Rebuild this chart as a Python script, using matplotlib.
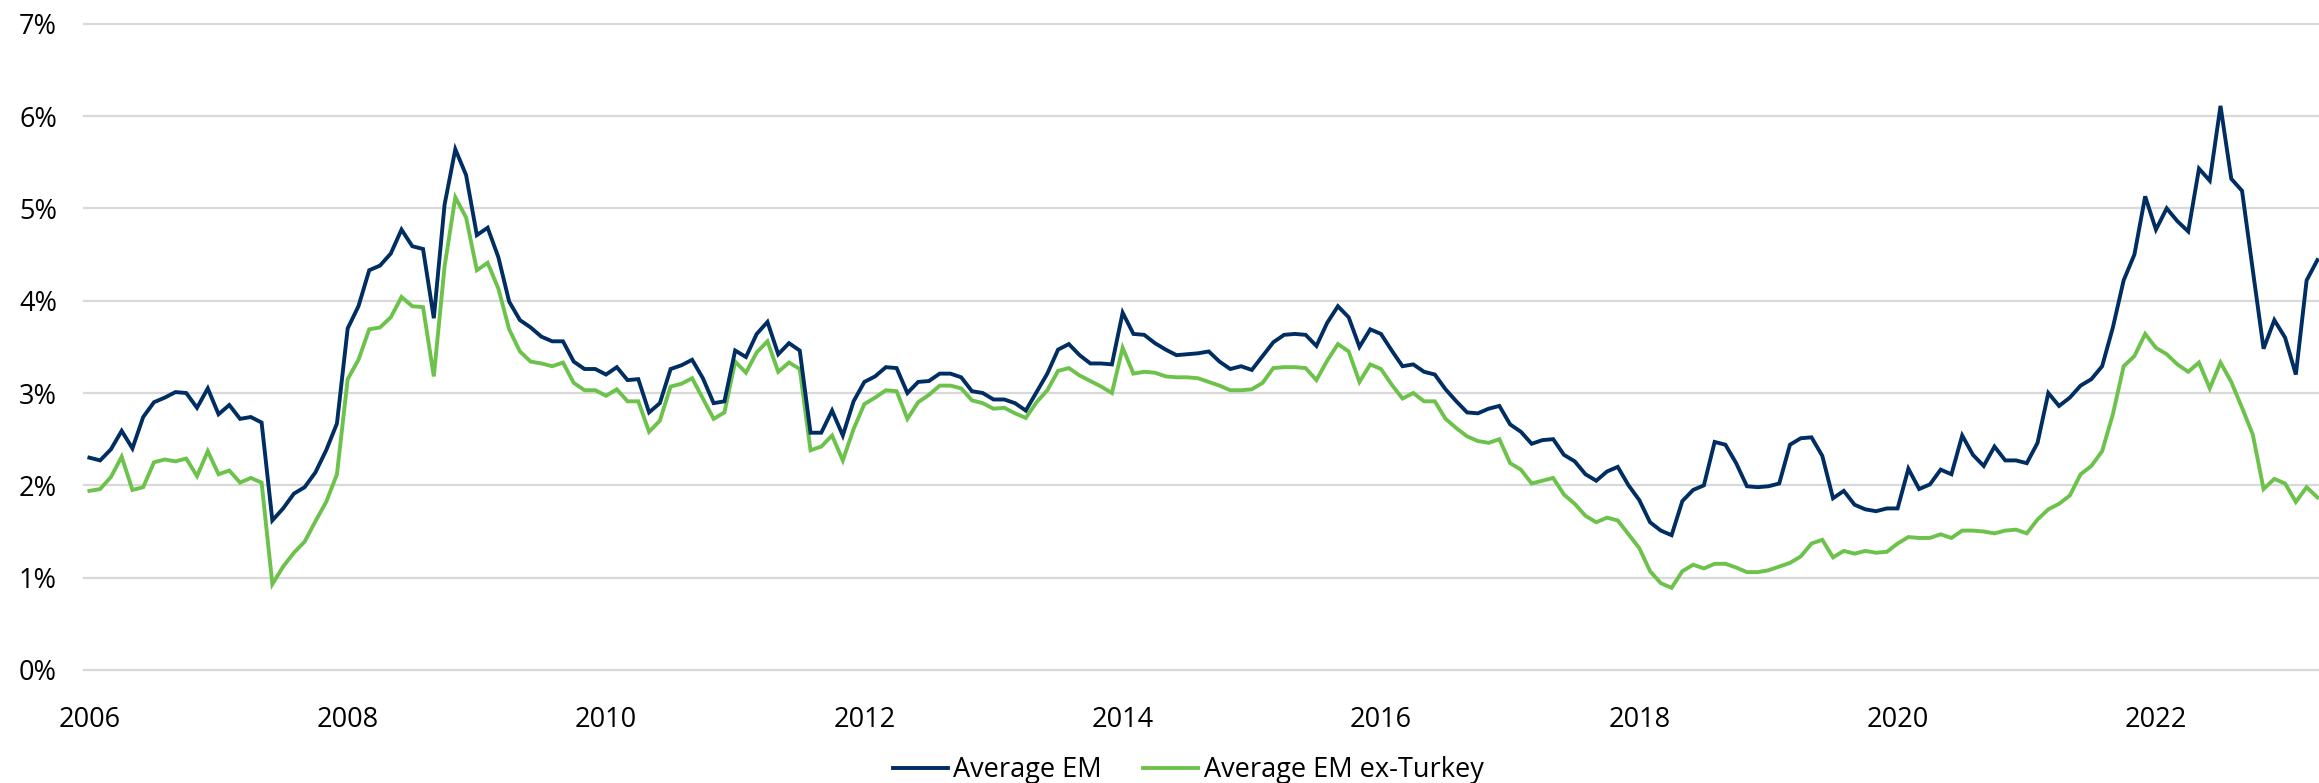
"""Average EM series vs. average EM ex-Turkey, monthly, 2006 to 2023."""
import matplotlib

matplotlib.use("Agg")
import matplotlib.pyplot as plt
import numpy as np
import pandas as pd


MONTHS = pd.period_range("2006-01", "2023-04", freq="M")
YEAR_LABELS = ["2006", "2008", "2010", "2012", "2014", "2016", "2018", "2020", "2022"]

# Percent, one row per calendar year (last row: Jan-Apr 2023).
AVERAGE_EM = [
    2.30, 2.27, 2.39, 2.59, 2.40, 2.74, 2.90, 2.95, 3.01, 3.00, 2.84, 3.05,
    2.77, 2.87, 2.72, 2.74, 2.68, 1.62, 1.75, 1.91, 1.98, 2.14, 2.38, 2.67,
    3.70, 3.94, 4.33, 4.38, 4.51, 4.77, 4.59, 4.56, 3.81, 5.04, 5.64, 5.36,
    4.71, 4.79, 4.47, 3.99, 3.79, 3.71, 3.61, 3.56, 3.56, 3.34, 3.26, 3.26,
    3.20, 3.28, 3.14, 3.15, 2.79, 2.89, 3.26, 3.30, 3.36, 3.16, 2.89, 2.91,
    3.46, 3.39, 3.64, 3.77, 3.42, 3.54, 3.46, 2.57, 2.57, 2.81, 2.54, 2.91,
    3.12, 3.18, 3.28, 3.27, 3.00, 3.12, 3.13, 3.21, 3.21, 3.17, 3.02, 3.00,
    2.93, 2.93, 2.89, 2.81, 3.01, 3.21, 3.47, 3.53, 3.41, 3.32, 3.32, 3.31,
    3.87, 3.64, 3.63, 3.54, 3.47, 3.41, 3.42, 3.43, 3.45, 3.34, 3.26, 3.29,
    3.25, 3.40, 3.55, 3.63, 3.64, 3.63, 3.51, 3.76, 3.94, 3.82, 3.50, 3.69,
    3.64, 3.46, 3.29, 3.31, 3.23, 3.20, 3.04, 2.91, 2.79, 2.78, 2.83, 2.86,
    2.66, 2.58, 2.45, 2.49, 2.50, 2.33, 2.26, 2.12, 2.05, 2.15, 2.20, 2.00,
    1.84, 1.60, 1.51, 1.46, 1.83, 1.95, 2.00, 2.47, 2.44, 2.24, 1.99, 1.98,
    1.99, 2.02, 2.44, 2.51, 2.52, 2.32, 1.86, 1.94, 1.79, 1.74, 1.72, 1.75,
    1.75, 2.18, 1.96, 2.01, 2.17, 2.12, 2.54, 2.33, 2.21, 2.42, 2.27, 2.27,
    2.24, 2.46, 3.00, 2.86, 2.95, 3.08, 3.15, 3.29, 3.71, 4.22, 4.50, 5.13,
    4.77, 5.00, 4.86, 4.75, 5.43, 5.30, 6.11, 5.32, 5.19, 4.33, 3.48, 3.79,
    3.60, 3.20, 4.22, 4.44,
]
AVERAGE_EM_EX_TURKEY = [
    1.94, 1.96, 2.09, 2.31, 1.95, 1.98, 2.25, 2.28, 2.26, 2.29, 2.10, 2.37,
    2.12, 2.16, 2.03, 2.08, 2.03, 0.93, 1.12, 1.27, 1.39, 1.61, 1.82, 2.12,
    3.15, 3.36, 3.69, 3.71, 3.82, 4.04, 3.94, 3.93, 3.18, 4.37, 5.12, 4.90,
    4.33, 4.41, 4.13, 3.69, 3.45, 3.34, 3.32, 3.29, 3.33, 3.11, 3.03, 3.03,
    2.97, 3.04, 2.91, 2.91, 2.58, 2.70, 3.07, 3.10, 3.16, 2.94, 2.72, 2.79,
    3.34, 3.22, 3.44, 3.56, 3.23, 3.33, 3.26, 2.38, 2.42, 2.54, 2.27, 2.61,
    2.88, 2.95, 3.03, 3.02, 2.72, 2.90, 2.98, 3.08, 3.08, 3.05, 2.92, 2.89,
    2.83, 2.84, 2.78, 2.73, 2.90, 3.03, 3.24, 3.27, 3.19, 3.13, 3.07, 3.00,
    3.49, 3.21, 3.23, 3.22, 3.18, 3.17, 3.17, 3.16, 3.12, 3.08, 3.03, 3.03,
    3.04, 3.11, 3.27, 3.28, 3.28, 3.27, 3.14, 3.35, 3.53, 3.45, 3.12, 3.31,
    3.26, 3.09, 2.94, 3.00, 2.91, 2.91, 2.72, 2.62, 2.53, 2.48, 2.46, 2.50,
    2.24, 2.17, 2.02, 2.05, 2.08, 1.90, 1.80, 1.67, 1.60, 1.65, 1.62, 1.47,
    1.32, 1.07, 0.94, 0.89, 1.07, 1.14, 1.10, 1.15, 1.15, 1.11, 1.06, 1.06,
    1.08, 1.12, 1.16, 1.23, 1.37, 1.41, 1.22, 1.29, 1.26, 1.29, 1.27, 1.28,
    1.37, 1.44, 1.43, 1.43, 1.47, 1.43, 1.51, 1.51, 1.50, 1.48, 1.51, 1.52,
    1.48, 1.63, 1.74, 1.80, 1.89, 2.12, 2.21, 2.37, 2.77, 3.29, 3.40, 3.64,
    3.49, 3.42, 3.31, 3.23, 3.33, 3.05, 3.33, 3.12, 2.84, 2.55, 1.96, 2.07,
    2.02, 1.82, 1.98, 1.87,
]

NAVY = "#002d62"
GREEN = "#6cc24a"
GRID = "#d9d9d9"


def plot_series(out_path: str) -> None:
    plt.rcParams.update(
        {
            "font.family": ["Open Sans", "DejaVu Sans"],
            "font.size": 19.5,
            "text.color": "#000000",
        }
    )

    fig = plt.figure(figsize=(23.19, 7.83), dpi=100)
    ax = fig.add_axes([84 / 2319, 113 / 783, 1 - 84 / 2319, (670 - 23.7) / 783])

    x = np.arange(len(MONTHS))
    ax.plot(x, AVERAGE_EM, color=NAVY, lw=2.8, label="Average EM", solid_joinstyle="miter", zorder=3)
    ax.plot(x, AVERAGE_EM_EX_TURKEY, color=GREEN, lw=2.8, label="Average EM ex-Turkey",
            solid_joinstyle="miter", zorder=2)

    ax.set_xlim(-0.5, len(MONTHS) - 0.85)
    ax.set_ylim(0, 7)
    ax.set_yticks(range(0, 8))
    ax.set_yticklabels([f"{v}%" for v in range(0, 8)])

    year_pos = [MONTHS.get_loc(pd.Period(f"{y}-01", freq="M")) for y in YEAR_LABELS]
    ax.set_xticks(year_pos)
    ax.set_xticklabels(YEAR_LABELS)

    ax.grid(axis="y", color=GRID, lw=1.6)
    ax.set_axisbelow(True)
    for side in ax.spines.values():
        side.set_visible(False)
    ax.tick_params(axis="both", length=0)
    ax.tick_params(axis="x", pad=26)
    ax.tick_params(axis="y", pad=19.5)
    for gl in ax.get_ygridlines():
        gl.set_clip_on(False)

    fig.legend(
        loc="center",
        bbox_to_anchor=(1188 / 2319, 1 - 770 / 783),
        ncol=2,
        frameon=False,
        handlelength=2.05,
        handletextpad=0.2,
        columnspacing=1.5,
        fontsize=19.5,
    )

    fig.savefig(out_path, dpi=100)
    plt.close(fig)


def main() -> None:
    plot_series("out.png")


if __name__ == "__main__":
    main()
